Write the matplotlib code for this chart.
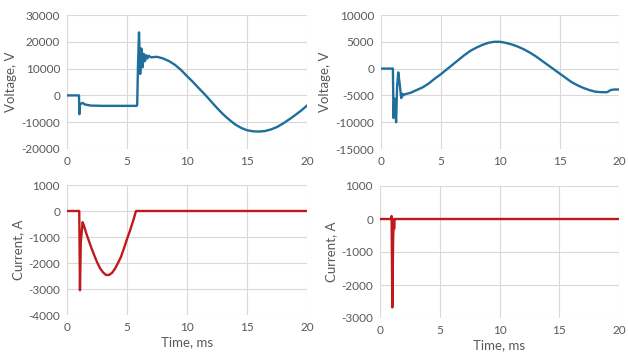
import matplotlib
matplotlib.use("Agg")
import matplotlib.pyplot as plt

# ---- Data (time in ms) ----
# Top-left: voltage, V
tl_t = [0, 1.0, 1.03, 1.08, 1.12, 1.3, 1.5, 2.0, 3.0, 4.0, 5.0, 5.8, 5.85, 5.92, 6.0, 6.1, 6.2,
        6.3, 6.4, 6.5, 6.6, 6.7, 6.8, 7.0, 7.5, 8.0, 8.5, 9.0, 9.5, 10.0, 10.5, 11.0, 11.5, 12.0,
        12.5, 13.0, 13.5, 14.0, 14.5, 15.0, 15.5, 16.0, 16.5, 17.0, 17.5, 18.0, 18.5, 19.0, 19.5, 20.0]
tl_v = [0, 0, -7000, -3500, -3200, -2800, -3400, -3800, -3900, -3900, -3900, -3900, -3500, 12000, 23500,
        8000, 17500, 10500, 15500, 12800, 15000, 13800, 14800, 14200, 14400, 13800, 12800, 11400, 9500,
        7200, 5000, 2600, 300, -2200, -4700, -7000, -9000, -10800, -12100, -13000, -13400, -13500,
        -13300, -12700, -11800, -10500, -9000, -7400, -5700, -3800]

# Top-right: voltage, V
tr_t = [0, 1.0, 1.05, 1.12, 1.2, 1.27, 1.35, 1.45, 1.55, 1.7, 1.8, 1.9, 2.0, 2.5, 3.0, 3.5, 4.0,
        4.5, 5.0, 5.5, 6.0, 6.5, 7.0, 7.5, 8.0, 8.5, 9.0, 9.5, 10.0, 10.5, 11.0, 11.5, 12.0, 12.5,
        13.0, 13.5, 14.0, 14.5, 15.0, 15.5, 16.0, 16.5, 17.0, 17.5, 18.0, 18.5, 19.0, 19.3, 19.6, 20.0]
tr_v = [0, 0, -9200, -5600, -7500, -10000, -3500, -700, -2500, -5500, -4700, -5000, -4800, -4500,
        -4000, -3500, -2800, -1900, -1100, -200, 700, 1600, 2500, 3300, 3900, 4400, 4800, 5000, 5000,
        4800, 4500, 4100, 3600, 3000, 2300, 1500, 700, -100, -900, -1700, -2500, -3100, -3600, -4000,
        -4300, -4400, -4400, -4000, -3900, -3900]

# Bottom-left: current, A
bl_t = [0, 1.02, 1.08, 1.15, 1.3, 1.4, 1.6, 1.8, 2.0, 2.25, 2.5, 2.75, 3.0, 3.25, 3.5, 3.75, 4.0,
        4.25, 4.5, 4.75, 5.0, 5.25, 5.5, 5.75, 20]
bl_i = [0, 0, -3050, -1200, -430, -550, -850, -1120, -1380, -1680, -1960, -2200, -2360, -2460,
        -2460, -2380, -2220, -2000, -1760, -1430, -1080, -750, -400, 0, 0]

# Bottom-right: current, A
br_t = [0, 0.92, 0.97, 1.03, 1.1, 1.15, 1.18, 1.22, 1.26, 20]
br_i = [0, 0, 90, -2680, -600, 0, -300, 0, 0, 0]

x_ticks = [0, 5, 10, 15, 20]
tl_yticks = [-20000, -10000, 0, 10000, 20000, 30000]
tr_yticks = [-15000, -10000, -5000, 0, 5000, 10000]
bl_yticks = [-4000, -3000, -2000, -1000, 0, 1000]
br_yticks = [-3000, -2000, -1000, 0, 1000]

BLUE = "#1f6e9c"
RED = "#c0191b"
GRID = "#d9d9d9"
TXT = "#595959"

plt.rcParams['font.family'] = ['Lato', 'DejaVu Sans']

W, H = 628, 356
fig = plt.figure(figsize=(W / 100, H / 100), dpi=100)
fig.patch.set_facecolor("white")


def px_axes(x0, x1, y0, y1):
    return fig.add_axes([x0 / W, 1 - y1 / H, (x1 - x0) / W, (y1 - y0) / H])


def style(ax, yticks, ylabel, xlabel=None):
    ax.set_xlim(0, 20)
    ax.set_ylim(yticks[0], yticks[-1])
    ax.set_xticks(x_ticks)
    ax.set_yticks(yticks)
    ax.set_yticklabels([str(v) for v in yticks])
    for s in ax.spines.values():
        s.set_visible(False)
    ax.grid(True, color=GRID, linewidth=0.8)
    ax.set_axisbelow(True)
    ax.tick_params(length=0, labelsize=8.5, colors=TXT, pad=5)
    ax.set_ylabel(ylabel, fontsize=9.5, color=TXT, labelpad=3)
    if xlabel:
        ax.set_xlabel(xlabel, fontsize=9.5, color=TXT, labelpad=2)


ax1 = px_axes(67, 307, 15, 149)
ax1.plot(tl_t, tl_v, color=BLUE, linewidth=1.7)
style(ax1, tl_yticks, "Voltage, V")

ax2 = px_axes(381, 619, 15, 149)
ax2.plot(tr_t, tr_v, color=BLUE, linewidth=1.7)
style(ax2, tr_yticks, "Voltage, V")

ax3 = px_axes(67, 307, 185, 315)
ax3.plot(bl_t, bl_i, color=RED, linewidth=1.7)
style(ax3, bl_yticks, "Current, A", "Time, ms")

ax4 = px_axes(380, 619, 186, 318)
ax4.plot(br_t, br_i, color=RED, linewidth=1.7)
style(ax4, br_yticks, "Current, A", "Time, ms")

fig.savefig("out.png", dpi=100)
